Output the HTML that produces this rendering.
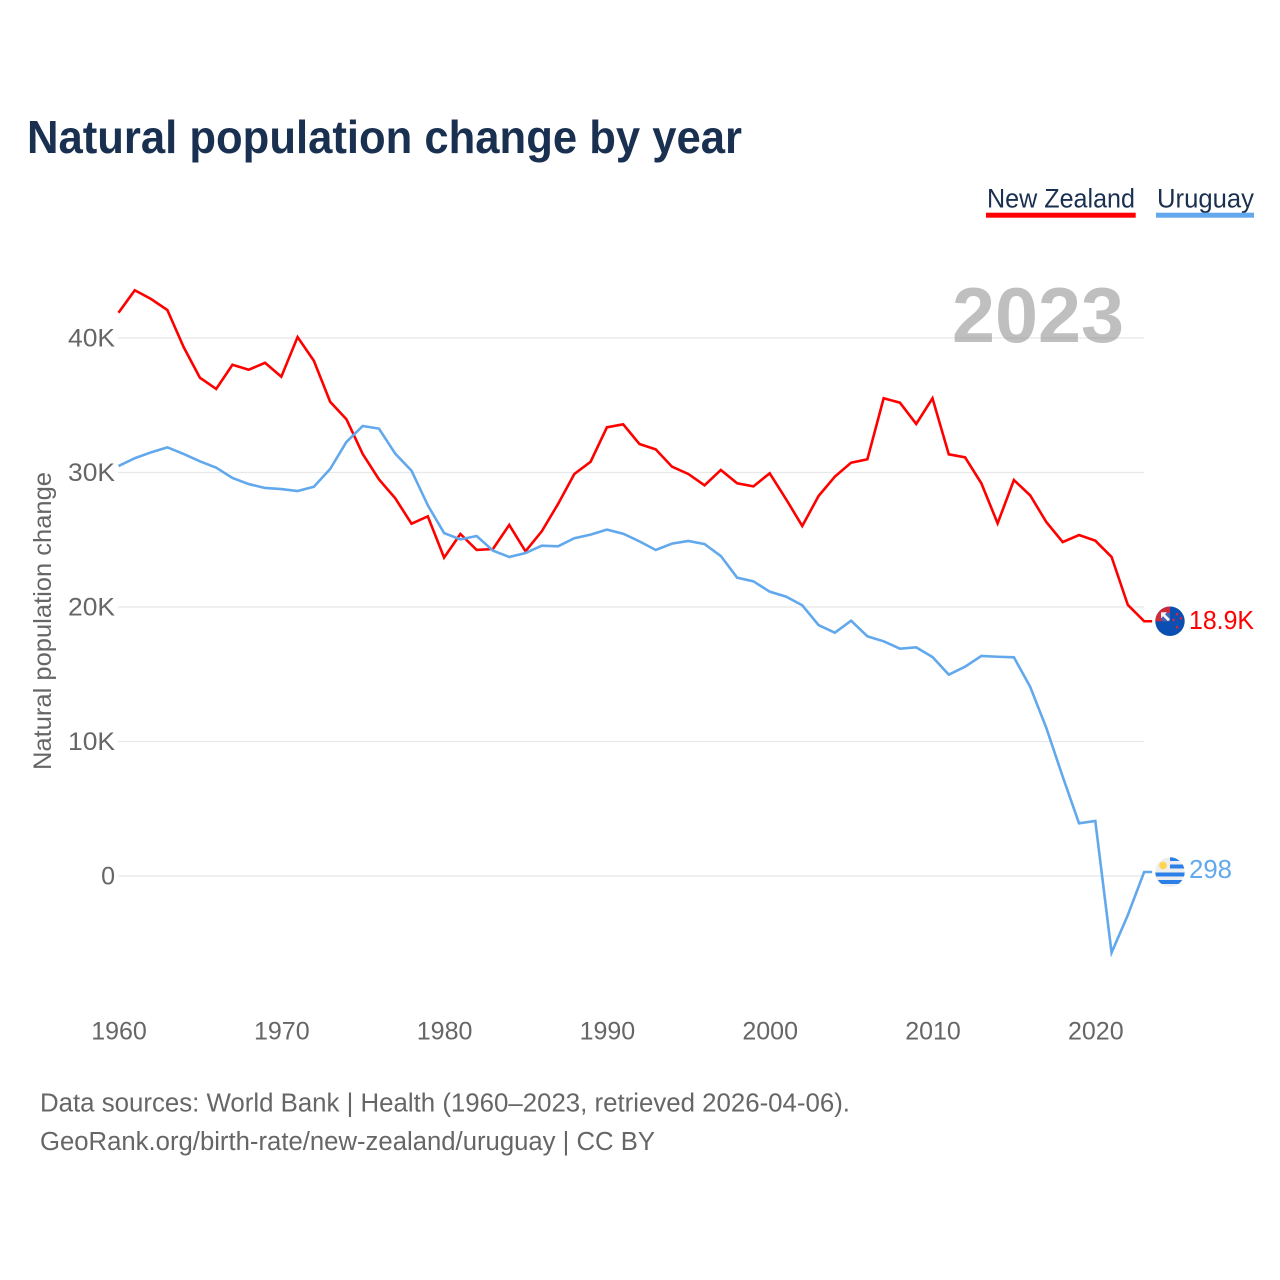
<!DOCTYPE html>
<html lang="en">
<head>
<meta charset="utf-8">
<title>Natural population change by year</title>
<style>
html,body{margin:0;padding:0;background:#fff;}
svg{display:block;font-family:"Liberation Sans",sans-serif;}
</style>
</head>
<body>
<svg id="chart" width="1280" height="1280" viewBox="0 0 1280 1280" xmlns="http://www.w3.org/2000/svg">
  <defs>
    <clipPath id="flag-clip-nz"><circle cx="0" cy="0" r="14.7"/></clipPath>
    <clipPath id="flag-clip-uy"><circle cx="0" cy="0" r="14.7"/></clipPath>
  </defs>
  <rect x="0" y="0" width="1280" height="1280" fill="#fff"/>
  <text x="27" y="153" font-size="46.5" font-weight="700" fill="#1a3050" textLength="715" lengthAdjust="spacingAndGlyphs">Natural population change by year</text>

  <g>
    <g>
      <text x="987" y="207.5" font-size="26.5" fill="#1a3050" textLength="148" lengthAdjust="spacingAndGlyphs">New Zealand</text>
      <rect x="986" y="212.7" width="149.7" height="5" fill="#ff0000"/>
    </g>
    <g>
      <text x="1157" y="207.5" font-size="26.5" fill="#1a3050" textLength="97" lengthAdjust="spacingAndGlyphs">Uruguay</text>
      <rect x="1156" y="212.7" width="98" height="5" fill="#62a8ec"/>
    </g>
  </g>

  <g id="grid"></g>
  <text x="952" y="342" font-size="78" font-weight="700" fill="#808080" fill-opacity="0.5" textLength="172" lengthAdjust="spacingAndGlyphs">2023</text>
  <g id="yticks"></g>
  <g id="xticks"></g>
  <text transform="translate(51,621) rotate(-90)" text-anchor="middle" font-size="25" fill="#666" textLength="298" lengthAdjust="spacingAndGlyphs">Natural population change</text>

  <g id="series"></g>

  <g id="marker-nz">
    <g clip-path="url(#flag-clip-nz)">
      <rect x="-15" y="-15" width="30" height="30" fill="#0b4fb3"/>
      <rect x="-15" y="-15" width="15" height="15" fill="#cf2a3c"/>
      <rect x="-8.5" y="-8.5" width="8.5" height="8.5" fill="#3f66b5"/>
      <polygon points="-9,-9 -3,-9 -5,-7 0,-2 -2,0 -7,-5 -9,-3" fill="#f4f4f4"/>
      <circle cx="7" cy="-7" r="1.3" fill="#e0203a"/>
      <circle cx="11" cy="-3" r="1.3" fill="#e0203a"/>
      <circle cx="3.7" cy="-1.3" r="1.3" fill="#e0203a"/>
      <circle cx="7" cy="6" r="1.3" fill="#e0203a"/>
    </g>
  </g>
  <g id="marker-uy">
    <g clip-path="url(#flag-clip-uy)">
      <rect x="-15" y="-15" width="30" height="30" fill="#eeeeee"/>
      <rect x="0" y="-15" width="15" height="4" fill="#2d7fe8"/>
      <rect x="0" y="-7.5" width="15" height="4" fill="#2d7fe8"/>
      <rect x="-15" y="0.5" width="30" height="4" fill="#2d7fe8"/>
      <rect x="-15" y="8" width="30" height="4" fill="#2d7fe8"/>
      <circle cx="-7" cy="-6.5" r="3.8" fill="#ffd54f"/>
    </g>
  </g>
  <g id="end-labels"></g>

  <g>
    <text x="40" y="1111.5" font-size="25.5" fill="#666" textLength="810" lengthAdjust="spacingAndGlyphs">Data sources: World Bank | Health (1960–2023, retrieved 2026-04-06).</text>
    <text x="40" y="1150" font-size="25.5" fill="#666" textLength="615" lengthAdjust="spacingAndGlyphs">GeoRank.org/birth-rate/new-zealand/uruguay | CC BY</text>
  </g>
</svg>
<script>
const startYear = 1960;
const newZealand = [41.88,43.55,42.90,42.08,39.33,37.05,36.21,38.01,37.64,38.16,37.12,40.07,38.31,35.26,33.96,31.38,29.49,28.08,26.19,26.74,23.67,25.43,24.24,24.31,26.10,24.14,25.63,27.66,29.89,30.80,33.36,33.58,32.12,31.72,30.43,29.89,29.05,30.19,29.20,28.97,29.94,28.03,26.02,28.25,29.69,30.73,30.98,35.52,35.19,33.61,35.52,31.35,31.13,29.20,26.22,29.44,28.30,26.30,24.83,25.35,24.93,23.72,20.15,18.94];
const uruguay = [30.48,31.06,31.50,31.87,31.38,30.83,30.36,29.59,29.14,28.85,28.77,28.62,28.94,30.26,32.27,33.46,33.26,31.40,30.13,27.56,25.50,25.03,25.28,24.19,23.72,24.01,24.56,24.51,25.11,25.38,25.75,25.45,24.88,24.24,24.71,24.91,24.68,23.79,22.18,21.91,21.14,20.77,20.13,18.66,18.09,18.98,17.82,17.45,16.90,17.00,16.28,14.97,15.56,16.36,16.30,16.26,14.07,10.98,7.38,3.92,4.09,-5.70,-2.90,0.298];
const yTickValues = [0,10,20,30,40];
const yTickLabels = ["0","10K","20K","30K","40K"];
const xTickYears = [1960,1970,1980,1990,2000,2010,2020];
const endLabels = ["18.9K","298"];

const SVG_NS = "http://www.w3.org/2000/svg";
function xScale(year){ return 118.5 + (year - 1960) * 16.28; }
function yScale(k){ return 876 - k * 13.45; }
function make(tag){ return document.createElementNS(SVG_NS, tag); }

const grid = document.getElementById("grid");
const yticks = document.getElementById("yticks");
yTickValues.forEach(function(v, i){
  const line = make("line");
  
  
  line.setAttribute("x1", 118);
  line.setAttribute("x2", 1144);
  line.setAttribute("y1", yScale(v));
  line.setAttribute("y2", yScale(v));
  line.setAttribute("stroke", "#e8e8e8");
  line.setAttribute("stroke-width", "1.3");
  grid.appendChild(line);
  const t = make("text");
  
  
  t.setAttribute("x", 115);
  t.setAttribute("y", yScale(v) + 8.5);
  t.setAttribute("text-anchor", "end");
  t.setAttribute("font-size", "25");
  t.setAttribute("fill", "#666");
  if (yTickLabels[i].length > 1) {
    t.setAttribute("textLength", "47");
    t.setAttribute("lengthAdjust", "spacingAndGlyphs");
  }
  t.textContent = yTickLabels[i];
  yticks.appendChild(t);
});

const xticks = document.getElementById("xticks");
xTickYears.forEach(function(y){
  const t = make("text");
  
  
  t.setAttribute("x", xScale(y) + 0.5);
  t.setAttribute("y", 1039.5);
  t.setAttribute("text-anchor", "middle");
  t.setAttribute("font-size", "25");
  t.setAttribute("fill", "#666");
  t.textContent = y;
  xticks.appendChild(t);
});

function linePath(values){
  let d = values.map(function(v, i){
    return (i ? "L" : "M") + xScale(startYear + i).toFixed(2) + " " + yScale(v).toFixed(2);
  }).join(" ");
  const last = values[values.length - 1];
  d += " L" + (xScale(startYear + values.length - 1) + 8).toFixed(2) + " " + yScale(last).toFixed(2);
  return d;
}

const series = document.getElementById("series");

const nzPath = make("path");


nzPath.setAttribute("d", linePath(newZealand));
nzPath.setAttribute("fill", "none");
nzPath.setAttribute("stroke", "#ff0000");
nzPath.setAttribute("stroke-width", "2.6");
nzPath.setAttribute("stroke-linejoin", "miter");
series.appendChild(nzPath);

const uyPath = make("path");


uyPath.setAttribute("d", linePath(uruguay));
uyPath.setAttribute("fill", "none");
uyPath.setAttribute("stroke", "#62a8ec");
uyPath.setAttribute("stroke-width", "2.6");
uyPath.setAttribute("stroke-linejoin", "miter");
series.appendChild(uyPath);

const nzEndY = yScale(newZealand[newZealand.length - 1]);
const uyEndY = yScale(uruguay[uruguay.length - 1]);
document.getElementById("marker-nz").setAttribute("transform", "translate(1170," + nzEndY + ")");
document.getElementById("marker-uy").setAttribute("transform", "translate(1170," + uyEndY + ")");

const labels = document.getElementById("end-labels");

const nzLabel = make("text");


nzLabel.setAttribute("x", 1189);
nzLabel.setAttribute("y", nzEndY + 7.5);
nzLabel.setAttribute("font-size", "26");
nzLabel.setAttribute("fill", "#ff0000");
nzLabel.setAttribute("textLength", "65");
nzLabel.setAttribute("lengthAdjust", "spacingAndGlyphs");
nzLabel.textContent = endLabels[0];
labels.appendChild(nzLabel);

const uyLabel = make("text");


uyLabel.setAttribute("x", 1189);
uyLabel.setAttribute("y", uyEndY + 6);
uyLabel.setAttribute("font-size", "26");
uyLabel.setAttribute("fill", "#62a8ec");
uyLabel.setAttribute("textLength", "43");
uyLabel.setAttribute("lengthAdjust", "spacingAndGlyphs");
uyLabel.textContent = endLabels[1];
labels.appendChild(uyLabel);
</script>
</body>
</html>
